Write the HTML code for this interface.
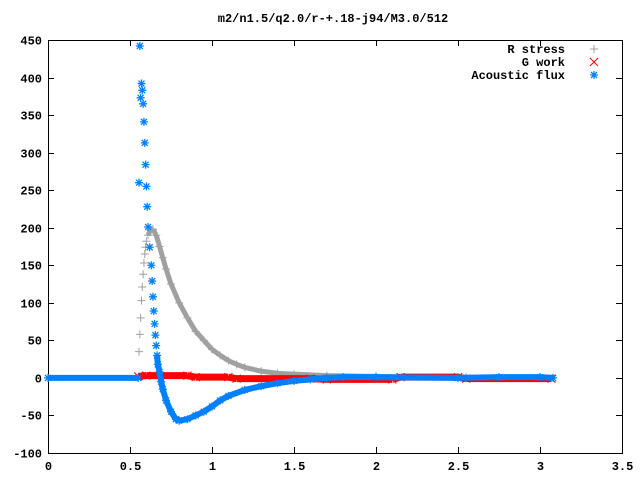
<!DOCTYPE html>
<html><head><meta charset="utf-8"><style>
body{margin:0;background:#fff}
svg text{font-family:"Liberation Mono",monospace;font-size:12px;font-weight:bold;fill:#000}
</style></head><body>
<svg id="chart" width="640" height="480" xmlns="http://www.w3.org/2000/svg">
<text x="333" y="22" text-anchor="middle">m2/n1.5/q2.0/r-+.18-j94/M3.0/512</text>
<g id="axes"></g>
<g id="series"></g>
<g id="legend"></g>
</svg>
<script>
const xTicks=[0,0.5,1,1.5,2,2.5,3,3.5];
const xTickLabels=["0","0.5","1","1.5","2","2.5","3","3.5"];
const yTicks=[-100,-50,0,50,100,150,200,250,300,350,400,450];
const yTickLabels=["-100","-50","0","50","100","150","200","250","300","350","400","450"];
const rX=[0,0.55,0.555,0.56,0.565,0.57,0.575,0.58,0.585,0.59,0.595,0.6,0.61,0.625,0.64,0.66,0.68,0.7,0.72,0.75,0.8,0.85,0.9,0.95,1.0,1.05,1.1,1.15,1.2,1.3,1.4,1.5,1.7,2.0,2.5,2.55];
const rY=[0,0,35,58,80,103,121,138,153,165,174,182,190,197,198,190,175,160,145,125,100,80,62,50,38,30,23,18,14,9,6,5,3,2,1,1];
const gX=[0.55,0.6,0.85,0.9,1.1,1.15,1.6,1.7,2.1,2.15,2.5,2.55,3.07];
const gY=[2,3,3,1,1,-1,-1,-2,-2,1,1,-1,-1];
const aX=[0,0.55,0.555,0.56,0.565,0.57,0.575,0.58,0.585,0.59,0.595,0.6,0.605,0.61,0.62,0.63,0.635,0.64,0.645,0.65,0.655,0.66,0.665,0.67,0.68,0.69,0.7,0.72,0.75,0.78,0.8,0.85,0.9,0.95,1.0,1.05,1.1,1.2,1.3,1.4,1.5,1.6,1.7,1.8,2.0,2.5,2.75,3.0,3.08];
const aY=[0,0,260,442,373,392,383,365,341,313,284,255,228,201,174,150,129,108,89,72,57,43,30,18,8,-5,-15,-30,-45,-55,-57,-55,-50,-45,-38,-30,-24,-16,-11,-7,-4,-2,0,1,1,0,1,1,0];
const L=48,R=622,T=40,B=453;
const sx=v=>L+(v-0)/3.5*(R-L);
const sy=v=>B-(v+100)/550*(B-T);
const NS="http://www.w3.org/2000/svg";
function mk(tag,attrs,parent){const e=document.createElementNS(NS,tag);for(const k in attrs)e.setAttribute(k,attrs[k]);parent.appendChild(e);return e;}
const axes=document.getElementById('axes');
const frame=mk('rect',{x:L+0.5,y:T+0.5,width:R-L,height:B-T,fill:'none',stroke:'#000','stroke-width':1},axes);


xTicks.forEach((v,i)=>{const x=Math.round(sx(v))+0.5;
 mk('line',{x1:x,y1:B,x2:x,y2:B-6,stroke:'#000'},axes);
 mk('line',{x1:x,y1:T,x2:x,y2:T+6,stroke:'#000'},axes);
 const t=mk('text',{x:x,y:B+17,'text-anchor':'middle'},axes);t.textContent=xTickLabels[i];
 
 });
yTicks.forEach((v,i)=>{const y=Math.round(sy(v))+0.5;
 mk('line',{x1:L,y1:y,x2:L+6,y2:y,stroke:'#000'},axes);
 mk('line',{x1:R,y1:y,x2:R-6,y2:y,stroke:'#000'},axes);
 const t=mk('text',{x:L-6,y:y+4,'text-anchor':'end'},axes);t.textContent=yTickLabels[i];
 
 });
const series=document.getElementById('series');
function marker(type,x,y,c,g){
 if(type==='plus'){mk('path',{d:`M${x-4} ${y}h8M${x} ${y-4}v8`,stroke:c,'stroke-width':1},g);}
 else if(type==='x'){mk('path',{d:`M${x-4} ${y-4}l8 8M${x-4} ${y+4}l8 -8`,stroke:c,'stroke-width':1},g);}
 else{mk('path',{d:`M${x-4} ${y}h8M${x} ${y-4}v8M${x-3} ${y-3}l6 6M${x-3} ${y+3}l6 -6`,stroke:c,'stroke-width':1.3},g);}
}
function draw(xs,ys,c,type,name,w,gapLo,gapHi){
 const g=mk('g',{},series);
 
 
 for(let i=0;i<xs.length-1;i++){
  const inGap=(xs[i+1]>gapLo && xs[i]<gapHi);
  if(inGap) continue;
  mk('line',{x1:sx(xs[i]),y1:sy(ys[i]),x2:sx(xs[i+1]),y2:sy(ys[i+1]),stroke:c,'stroke-width':w,'stroke-linecap':'butt'},g);
 }
 xs.forEach((v,i)=>marker(type,sx(v),sy(ys[i]),c,g));
}
draw(rX,rY,'#a0a0a0','plus','r-stress-series',5,0.551,0.61);
draw(gX,gY,'#ff0000','x','g-work-series',7,9,9);
draw(aX,aY,'#0080ff','star','acoustic-flux-series',6,0.551,0.665);
const lg=document.getElementById('legend');
[['R stress','#a0a0a0','plus'],['G work','#ff0000','x'],['Acoustic flux','#0080ff','star']].forEach((e,i)=>{
 const y=49+i*13;
 const t=mk('text',{x:565,y:y+4,'text-anchor':'end'},lg);t.textContent=e[0];
 
 
 marker(e[2],594,y,e[1],lg);
});
</script>
</body></html>
